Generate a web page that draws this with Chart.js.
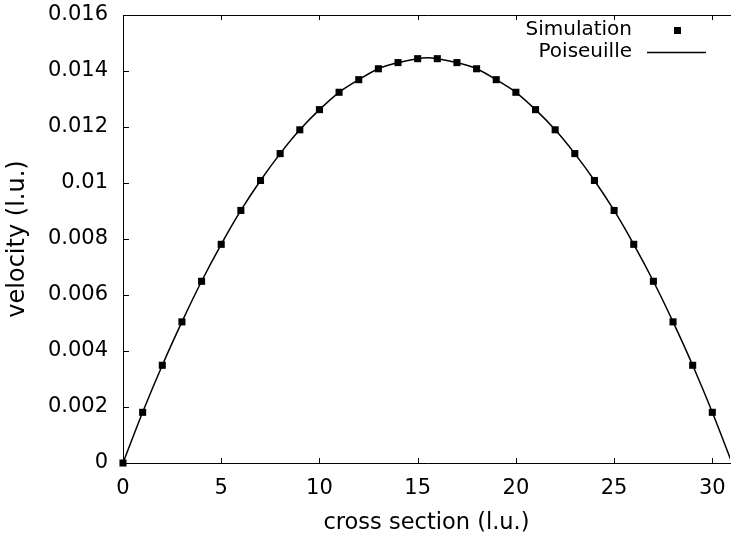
<!DOCTYPE html>
<html>
<head>
<meta charset="utf-8">
<script src="https://cdn.jsdelivr.net/npm/chart.js@4"></script>
<style>
  html, body { margin: 0; padding: 0; background: #fff; overflow: hidden; width: 731px; height: 539px; }
</style>
</head>
<body>
<canvas id="myChart" width="735" height="539"></canvas>
<script>
const crossSection = [0, 1, 2, 3, 4, 5, 6, 7, 8, 9, 10, 11, 12, 13, 14, 15,
    16, 17, 18, 19, 20, 21, 22, 23, 24, 25, 26, 27, 28, 29, 30];
const simulation = [0, 0.00181, 0.00349, 0.00504, 0.00649, 0.00781, 0.00902, 0.01009,
    0.01105, 0.01190, 0.01262, 0.01324, 0.01369, 0.01408, 0.01430, 0.01444,
    0.01444, 0.01430, 0.01408, 0.01369, 0.01324, 0.01262, 0.01190, 0.01105,
    0.01009, 0.00902, 0.00781, 0.00649, 0.00504, 0.00349, 0.00181];
const poiseuilleX = [0, 1, 2, 3, 4, 5, 6, 7, 8, 9, 10, 11, 12, 13, 14, 15, 15.5,
    16, 17, 18, 19, 20, 21, 22, 23, 24, 25, 26, 27, 28, 29, 30, 31];
const poiseuille = [0, 0.00181, 0.00349, 0.00504, 0.00649, 0.00781, 0.00902, 0.01009,
    0.01105, 0.01190, 0.01262, 0.01324, 0.01369, 0.01408, 0.01430, 0.01444, 0.01447,
    0.01444, 0.01430, 0.01408, 0.01369, 0.01324, 0.01262, 0.01190, 0.01105,
    0.01009, 0.00902, 0.00781, 0.00649, 0.00504, 0.00349, 0.00181, 0];
const xTicks = [0, 5, 10, 15, 20, 25, 30];
const yTicks = [0, 0.002, 0.004, 0.006, 0.008, 0.01, 0.012, 0.014, 0.016];

const FAMILY = '"DejaVu Sans", sans-serif';
const TICK_FONT = { family: FAMILY, size: 21 };

function pts(xs, ys) {
    const out = [];
    for (let i = 0; i < xs.length; i++) {
        out.push({ x: xs[i], y: ys[i] });
    }
    return out;
}

// gnuplot look: frame, inward ticks, legend top right inside the plot
const gnuplotFrame = {
    id: 'gnuplotFrame',
    afterDatasetsDraw(chart) {
        const ctx = chart.ctx;
        const a = chart.chartArea;
        const xs = chart.scales.x, ys = chart.scales.y;
        ctx.save();
        ctx.strokeStyle = '#000';
        ctx.lineWidth = 1;
        ctx.beginPath();
        ctx.moveTo(a.left + 0.5, a.top + 0.5);
        ctx.lineTo(a.right + 4, a.top + 0.5);
        ctx.moveTo(a.left + 0.5, a.top);
        ctx.lineTo(a.left + 0.5, a.bottom + 0.5);
        ctx.lineTo(a.right + 4, a.bottom + 0.5);
        xs.ticks.forEach(t => {
            const px = Math.round(xs.getPixelForValue(t.value)) + 0.5;
            ctx.moveTo(px, a.bottom);
            ctx.lineTo(px, a.bottom - 5);
            ctx.moveTo(px, a.top);
            ctx.lineTo(px, a.top + 5);
        });
        ys.ticks.forEach(t => {
            const py = Math.round(ys.getPixelForValue(t.value)) + 0.5;
            ctx.moveTo(a.left, py);
            ctx.lineTo(a.left + 6, py);
        });
        ctx.stroke();

        const ds = chart.data.datasets;
        ctx.fillStyle = '#000';
        ctx.font = '20px ' + FAMILY;
        ctx.textAlign = 'right';
        ctx.textBaseline = 'middle';
        ctx.fillText(ds[0].label, 632, 30);
        ctx.fillRect(674, 27, 7, 7);
        ctx.fillText(ds[1].label, 632, 52);
        ctx.lineWidth = 1.5;
        ctx.beginPath();
        ctx.moveTo(647, 52.5);
        ctx.lineTo(706, 52.5);
        ctx.stroke();
        ctx.restore();
    }
};

var ctx = document.getElementById('myChart').getContext('2d');
var myChart = new Chart(ctx, {
    type: 'scatter',
    data: {
        datasets: [{
            label: 'Simulation',
            data: pts(crossSection, simulation),
            pointStyle: 'rect',
            pointRadius: 5,
            pointBorderWidth: 0,
            backgroundColor: '#000',
            borderColor: '#000',
            showLine: false,
            clip: false,
            order: 0
        }, {
            label: 'Poiseuille',
            data: pts(poiseuilleX, poiseuille),
            showLine: true,
            pointRadius: 0,
            borderColor: '#000',
            borderWidth: 1.5,
            tension: 0.3,
            order: 1
        }]
    },
    options: {
        responsive: false,
        animation: false,
        layout: { padding: { top: 15, right: 0, left: 0, bottom: 0 } },
        plugins: {
            legend: { display: false },
            tooltip: { enabled: false }
        },
        scales: {
            x: {
                type: 'linear',
                min: 0,
                max: 30.9,
                afterBuildTicks: (s) => { s.ticks = xTicks.map(v => ({ value: v })); },
                afterFit: (s) => {
                    s.height = 76;
                    s.paddingLeft = 0;
                    s.paddingRight = 0;
                },
                grid: { display: false, drawTicks: false },
                border: { display: false },
                ticks: { color: '#000', font: TICK_FONT, padding: 13, maxRotation: 0 },
                title: {
                    display: true,
                    text: 'cross section (l.u.)',
                    color: '#000',
                    font: { family: FAMILY, size: 22.5 },
                    padding: { top: 0, bottom: 2 }
                }
            },
            y: {
                type: 'linear',
                min: 0,
                max: 0.016,
                afterBuildTicks: (s) => { s.ticks = yTicks.map(v => ({ value: v })); },
                afterFit: (s) => {
                    s.width = 123;
                    s.paddingTop = 0;
                    s.paddingBottom = 0;
                },
                grid: { display: false, drawTicks: false },
                border: { display: false },
                ticks: {
                    color: '#000',
                    font: TICK_FONT,
                    padding: 15,
                    callback: (v) => String(+v.toFixed(3))
                },
                title: {
                    display: true,
                    text: 'velocity (l.u.)',
                    color: '#000',
                    font: { family: FAMILY, size: 24 },
                    padding: { top: 3, bottom: 0 }
                }
            }
        }
    },
    plugins: [gnuplotFrame]
});
</script>
</body>
</html>
